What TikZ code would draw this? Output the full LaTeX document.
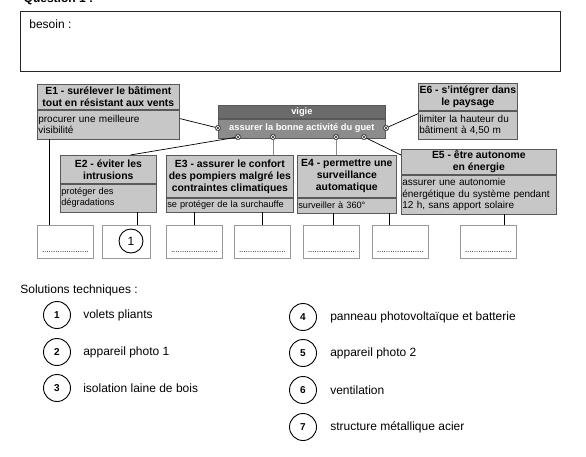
\documentclass[tikz,border=0pt]{standalone}
\usepackage{fontspec}
\setmainfont{Liberation Sans}
\usetikzlibrary{positioning}
\tikzset{ebox/.style = {draw=black!65, fill=black!22, inner xsep=1pt, inner ysep=0pt},
  etitle/.style = {ebox, align=center, font=\fontsize{10.4}{12}\selectfont\bfseries},
  ebody/.style = {ebox, align=left, font=\fontsize{10}{11.5}\selectfont},
  esmall/.style = {ebox, align=left, font=\fontsize{9.2}{11}\selectfont},
  vhead/.style = {draw=black!65, fill=black!58, text=white, align=center, inner xsep=1pt, inner ysep=0pt, font=\fontsize{9.3}{11}\selectfont\bfseries},
  vbody/.style = {vhead, fill=black!45},
  port/.style = {circle, draw=black!80, fill=black!8, inner sep=0pt, minimum size=5.5pt, line width=0.5pt,
    path picture={\draw[black!80, line width=0.5pt] (path picture bounding box.south west) -- (path picture bounding box.north east)
      (path picture bounding box.north west) -- (path picture bounding box.south east);}},
  sol/.style = {draw=black!40, fill=white, minimum width=56pt, minimum height=33pt, inner sep=0pt, anchor=north west},
  dots/.style = {font=\fontsize{8}{8}\selectfont, inner sep=0pt},
  num/.style = {circle, draw, line width=0.9pt, minimum size=27pt, inner sep=0pt, font=\fontsize{10}{10}\selectfont\bfseries},
  legtxt/.style = {font=\fontsize{12}{14}\selectfont, inner sep=0pt}}
\begin{document}
\begin{tikzpicture}[x=1pt, y=-1pt, line width=0.7pt]
\path[use as bounding box] (0,0) rectangle (586,457);
% question
\node[anchor=base west, font=\fontsize{12}{14}\selectfont\bfseries] (qst) at (20,2.5) {Question 1 :};
\node[draw=black!85, minimum width=540pt, minimum height=60pt, anchor=north west, inner sep=0pt] (besoin) at (20,11) {};
\node[anchor=north west, legtxt] (besointxt) at (29,19) {besoin :};

% fonctions
\node[etitle, minimum width=142pt, minimum height=25pt, anchor=north west] (e1t) at (37,84) {E1 - surélever le bâtiment\\tout en résistant aux vents};
\node[ebody, text width=140pt, minimum height=29pt, below=0pt of e1t] (e1b) {procurer une meilleure\\visibilité};
\node[etitle, minimum width=96pt, minimum height=28pt, anchor=north west] (e2t) at (60,155) {E2 - éviter les\\intrusions};
\node[esmall, text width=94pt, minimum height=28pt, below=0pt of e2t] (e2b) {protéger des\\dégradations};
\node[etitle, minimum width=127pt, minimum height=42pt, anchor=north west] (e3t) at (166,155) {E3 - assurer le confort\\des pompiers malgré les\\contraintes climatiques};
\node[esmall, text width=125pt, minimum height=14pt, below=0pt of e3t] (e3b) {se protéger de la surchauffe};
\node[etitle, minimum width=99pt, minimum height=42pt, anchor=north west] (e4t) at (297,155) {E4 - permettre une\\surveillance\\automatique};
\node[esmall, text width=97pt, minimum height=15pt, below=0pt of e4t] (e4b) {surveiller à 360°};
\node[etitle, minimum width=155pt, minimum height=25pt, anchor=north west] (e5t) at (401,149) {E5 - être autonome\\en énergie};
\node[ebody, text width=153pt, minimum height=39pt, below=0pt of e5t] (e5b) {assurer une autonomie\\énergétique du système pendant\\12 h, sans apport solaire};
\node[etitle, minimum width=99pt, minimum height=27pt, anchor=north west] (e6t) at (418,83) {E6 - s’intégrer dans\\le paysage};
\node[ebody, text width=97pt, minimum height=28pt, below=0pt of e6t] (e6b) {limiter la hauteur du\\bâtiment à 4,50 m};

% vigie
\node[vhead, minimum width=167pt, minimum height=13pt, anchor=north west] (vt) at (218,105) {vigie};
\node[vbody, minimum width=167pt, minimum height=19pt, below=0pt of vt] (vb) {assurer la bonne activité du guet};

% liaisons
\draw ([yshift=6pt]e1b.east) -- (218,128) coordinate (cl);
\draw ([xshift=22pt]e2t.north) -- (238,137) coordinate (cb1);
\draw[black!45] (e3t.north -| 273,0) -- (273,137) coordinate (cb2);
\draw[black!45] (e4t.north -| 336,0) -- (336,137) coordinate (cb3);
\draw ([yshift=-6pt]e5t.north west) -- (364,137) coordinate (cb4);
\draw ([yshift=-3pt]e6b.north west) -- (386,128) coordinate (cr);
\foreach \p in {cl,cr,cb1,cb2,cb3,cb4}
  \node[port] (p\p) at (\p) {};

% solutions
\node[sol, label={[dots, anchor=south, yshift=6pt]below:.....................}] (s1) at (37,225) {};
\node[sol, minimum width=48pt] (s2) at (102,225) {};
\node[sol, label={[dots, anchor=south, yshift=6pt]below:.....................}] (s3) at (166,225) {};
\node[sol, label={[dots, anchor=south, yshift=6pt]below:.....................}] (s4) at (234,225) {};
\node[sol, label={[dots, anchor=south, yshift=6pt]below:.....................}] (s5) at (303,225) {};
\node[sol, label={[dots, anchor=south, yshift=6pt]below:.....................}] (s6) at (372,225) {};
\node[sol, label={[dots, anchor=south, yshift=6pt]below:.....................}] (s7) at (460,225) {};
\node[num, minimum size=24pt, font=\fontsize{12}{12}\selectfont] (c1) at (131,241) {1};

\draw ([xshift=-16pt]s1.north) -- ([xshift=-16pt]s1.north |- e1b.south);
\draw ([xshift=11pt]s2.north) -- ([xshift=11pt]s2.north |- e2b.south);
\draw (s3.north) -- (s3.north |- e3b.south);
\draw (s4.north) -- (s4.north |- e3b.south);
\draw ([xshift=2pt]s5.north) -- ([xshift=2pt]s5.north |- e4b.south);
\draw ([xshift=-11pt]s6.north) -- ([xshift=-11pt]s6.north |- e4b.south);
\draw ([xshift=16pt]s7.north) -- ([xshift=16pt]s7.north |- e5b.south);

% legende
\node[anchor=west, legtxt] (soltit) at (20,290) {Solutions techniques :};
\foreach \n/\y/\t in {1/315/volets pliants, 2/352/appareil photo 1, 3/388/isolation laine de bois}{
  \node[num] (n\n) at (57,\y) {\n};
  \node[legtxt, right=12pt of n\n] (t\n) {\t};
}
\foreach \n/\y/\t in {4/317/panneau photovoltaïque et batterie, 5/353/appareil photo 2, 6/390/ventilation, 7/427/structure métallique acier}{
  \node[num] (n\n) at (303,\y) {\n};
  \node[legtxt, right=13pt of n\n] (t\n) {\t};
}
\end{tikzpicture}
\end{document}
